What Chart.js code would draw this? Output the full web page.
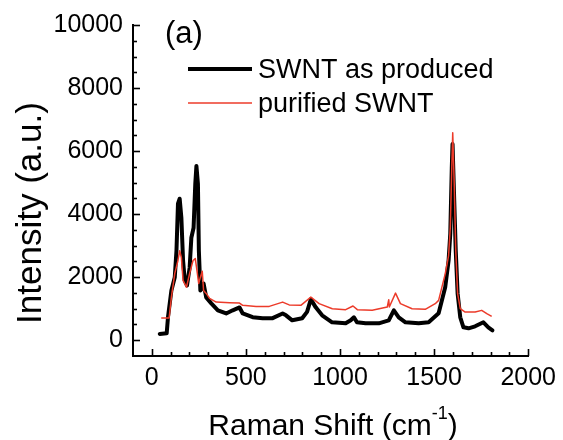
<!DOCTYPE html>
<html>
<head>
<meta charset="utf-8">
<script src="https://cdn.jsdelivr.net/npm/chart.js@4/dist/chart.umd.min.js"></script>
<style>
  html, body { margin: 0; padding: 0; background: #fff; }
  #wrap { width: 563px; height: 440px; position: relative; }
</style>
</head>
<body>
<div id="wrap"><canvas id="c" width="563" height="440"></canvas></div>
<script>
// ---- Data ----
const seriesNames = ['SWNT as produced', 'purified SWNT'];
const panelLabel = '(a)';
const xTitle = 'Raman Shift (cm';
const xTitleSup = '-1';
const yTitle = 'Intensity (a.u.)';

const shiftProduced = [42, 79, 86, 104, 122, 131, 139, 148, 157, 166, 175, 187, 201, 210, 222, 231, 237, 245, 250, 258, 271, 275, 289, 316, 351, 395, 430, 466, 483, 536, 589, 642, 695, 713, 746, 799, 825, 845, 871, 905, 958, 1030, 1057, 1074, 1090, 1136, 1206, 1259, 1286, 1312, 1348, 1418, 1471, 1524, 1559, 1577, 1586, 1594, 1598, 1607, 1615, 1625, 1639, 1656, 1683, 1718, 1762, 1788, 1810];
const intensityProduced = [200, 220, 735, 1580, 2000, 2840, 4330, 4490, 3890, 2530, 1900, 1740, 2300, 3250, 3570, 4960, 5530, 4960, 2840, 1580, 1670, 1800, 1360, 1170, 950, 850, 950, 1040, 850, 730, 700, 700, 850, 790, 632, 695, 900, 1300, 1043, 790, 569, 537, 632, 727, 569, 537, 537, 632, 948, 727, 569, 537, 569, 853, 1684, 2528, 3380, 5466, 6224, 4423, 2844, 1485, 727, 411, 379, 442, 569, 411, 316];

const shiftPurified = [50, 92, 104, 122, 139, 148, 157, 166, 184, 201, 219, 231, 240, 249, 258, 268, 275, 289, 307, 342, 413, 466, 483, 554, 624, 695, 730, 792, 845, 889, 959, 1030, 1069, 1092, 1171, 1251, 1259, 1262, 1295, 1321, 1383, 1453, 1506, 1524, 1559, 1577, 1586, 1594, 1599, 1607, 1615, 1625, 1639, 1665, 1718, 1753, 1780, 1806];
const intensityPurified = [705, 705, 1370, 2120, 2530, 2840, 2630, 1900, 1680, 2120, 2530, 2590, 2210, 1800, 2000, 2190, 1580, 1485, 1327, 1210, 1190, 1180, 1106, 1074, 1074, 1210, 1120, 1106, 1370, 1160, 1000, 970, 1085, 970, 950, 1053, 1285, 1053, 1495, 1160, 1000, 980, 1160, 1264, 2107, 2686, 3580, 5476, 6580, 4950, 2844, 1475, 1000, 895, 895, 948, 843, 758];

const xTickLabels = [0, 500, 1000, 1500, 2000];
const yTickLabels = [0, 2000, 4000, 6000, 8000, 10000];
const xMinorStep = 100;
const yMinorStep = 500;

// ---- Chart ----
const FONT = '"Liberation Sans", Arial, Helvetica, sans-serif';
const BLACK = '#000000';
const RED = '#ec3b2a';

const toPoints = (xs, ys) => xs.map((x, i) => ({ x: x, y: ys[i] }));

const inwardTicks = {
  id: 'inwardTicks',
  afterDraw(chart) {
    const ctx = chart.ctx;
    const xs = chart.scales.x, ys = chart.scales.y;
    const area = chart.chartArea;
    ctx.save();
    ctx.strokeStyle = '#000';
    ctx.lineWidth = 1.6;
    for (let v = 0; v <= xs.max + 0.001; v += xMinorStep) {
      const px = Math.round(xs.getPixelForValue(v)) + 0.5;
      const len = xTickLabels.includes(v) ? 7 : 4;
      ctx.beginPath();
      ctx.moveTo(px, area.bottom);
      ctx.lineTo(px, area.bottom - len);
      ctx.stroke();
    }
    for (let v = 0; v <= ys.max + 0.001; v += yMinorStep) {
      const py = Math.round(ys.getPixelForValue(v)) + 0.5;
      const len = yTickLabels.includes(v) ? 7 : 4;
      ctx.beginPath();
      ctx.moveTo(area.left, py);
      ctx.lineTo(area.left + len, py);
      ctx.stroke();
    }
    ctx.restore();
  }
};

const annotations = {
  id: 'annotations',
  afterDraw(chart) {
    const ctx = chart.ctx;
    ctx.save();
    ctx.fillStyle = '#000';
    // panel label
    ctx.font = '31px ' + FONT;
    ctx.textBaseline = 'alphabetic';
    ctx.textAlign = 'left';
    ctx.fillText(panelLabel, 165, 43);
    // legend
    const ds = chart.data.datasets;
    const rows = [{ y: 69, base: 78 }, { y: 103, base: 112 }];
    ds.forEach((d, i) => {
      ctx.strokeStyle = d.borderColor;
      ctx.lineWidth = d.borderWidth;
      ctx.beginPath();
      ctx.moveTo(188, rows[i].y);
      ctx.lineTo(252, rows[i].y);
      ctx.stroke();
      ctx.font = '27px ' + FONT;
      ctx.fillText(d.label, 258, rows[i].base);
    });
    // x title with superscript
    ctx.font = '30px ' + FONT;
    const w1 = ctx.measureText(xTitle).width;
    ctx.font = '18px ' + FONT;
    const w2 = ctx.measureText(xTitleSup).width;
    ctx.font = '30px ' + FONT;
    const w3 = ctx.measureText(')').width;
    let x0 = 333 - (w1 + w2 + w3) / 2;
    ctx.fillText(xTitle, x0, 435);
    ctx.font = '18px ' + FONT;
    ctx.fillText(xTitleSup, x0 + w1, 419);
    ctx.font = '30px ' + FONT;
    ctx.fillText(')', x0 + w1 + w2, 435);
    // y title
    ctx.translate(31, 213);
    ctx.rotate(-Math.PI / 2);
    ctx.textAlign = 'center';
    ctx.textBaseline = 'middle';
    ctx.font = '35px ' + FONT;
    ctx.fillText(yTitle, 0, 0);
    ctx.restore();
  }
};

new Chart(document.getElementById('c'), {
  type: 'line',
  data: {
    datasets: [
      { label: seriesNames[0], data: toPoints(shiftProduced, intensityProduced), borderColor: BLACK, borderWidth: 4, borderJoinStyle: 'round', borderCapStyle: 'round', pointRadius: 0, tension: 0, order: 2, fill: false },
      { label: seriesNames[1], data: toPoints(shiftPurified, intensityPurified), borderColor: RED, borderWidth: 1.5, borderJoinStyle: 'round', pointRadius: 0, tension: 0, order: 1, fill: false }
    ]
  },
  options: {
    responsive: false,
    animation: false,
    devicePixelRatio: 1,
    layout: { padding: { top: 23, right: 33, left: 0, bottom: 0 } },
    plugins: { legend: { display: false }, tooltip: { enabled: false }, title: { display: false } },
    scales: {
      x: {
        type: 'linear',
        min: -100, max: 2000,
        afterFit: s => { s.height = 84; },
        afterBuildTicks: s => { s.ticks = xTickLabels.map(v => ({ value: v })); },
        grid: { display: false, drawTicks: false },
        border: { display: true, color: '#000', width: 2 },
        ticks: { color: '#000', font: { family: FONT, size: 25 }, padding: 7, maxRotation: 0, autoSkip: false, callback: v => String(v) }
      },
      y: {
        type: 'linear',
        min: -500, max: 10000,
        afterFit: s => { s.width = 133; },
        afterBuildTicks: s => { s.ticks = yTickLabels.map(v => ({ value: v })); },
        grid: { display: false, drawTicks: false },
        border: { display: true, color: '#000', width: 2 },
        ticks: { color: '#000', font: { family: FONT, size: 25 }, padding: 10, autoSkip: false, callback: v => String(v) }
      }
    }
  },
  plugins: [inwardTicks, annotations]
});
</script>
</body>
</html>
